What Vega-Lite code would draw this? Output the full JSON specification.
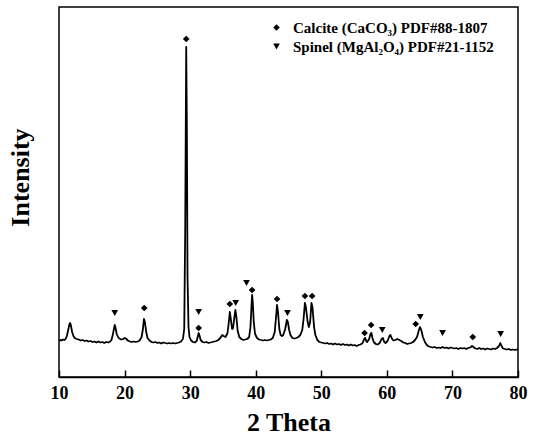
{
  "$schema": "https://vega.github.io/schema/vega-lite/v6.json",
  "autosize": {"type": "none"},
  "padding": {"left": 59, "top": 7, "right": 15, "bottom": 66},
  "width": 459,
  "height": 370,
  "config": {
    "view": {"stroke": "black", "strokeWidth": 1.5},
    "font": "Liberation Serif"
  },
  "datasets": {
    "spectrum": [
      {"t":10.0,"i":36},{"t":10.2,"i":37},{"t":10.4,"i":36.5},{"t":10.6,"i":37.5},{"t":10.8,"i":37},{"t":11.0,"i":38},{"t":11.2,"i":41},{"t":11.4,"i":47},{"t":11.6,"i":53},{"t":11.7,"i":54},{"t":11.8,"i":52},{"t":12.0,"i":45},{"t":12.2,"i":41},{"t":12.4,"i":39},{"t":12.7,"i":38},{"t":13.0,"i":37.5},{"t":13.3,"i":36.5},{"t":13.6,"i":37},{"t":13.9,"i":36},{"t":14.2,"i":36.5},{"t":14.5,"i":35.5},{"t":14.8,"i":36},{"t":15.1,"i":35},{"t":15.4,"i":35.5},{"t":15.7,"i":34.5},{"t":16.0,"i":35.5},{"t":16.3,"i":34.5},{"t":16.6,"i":35},{"t":16.9,"i":34},{"t":17.2,"i":35},{"t":17.5,"i":34.5},{"t":17.8,"i":35.5},{"t":18.0,"i":37},{"t":18.2,"i":42},{"t":18.4,"i":49},{"t":18.5,"i":52},{"t":18.6,"i":50},{"t":18.8,"i":43},{"t":19.0,"i":40},{"t":19.2,"i":38.5},{"t":19.5,"i":37.5},{"t":19.8,"i":38},{"t":20.0,"i":39},{"t":20.2,"i":38.5},{"t":20.5,"i":36.5},{"t":20.8,"i":35.5},{"t":21.1,"i":35},{"t":21.4,"i":35.5},{"t":21.7,"i":35},{"t":22.0,"i":35.5},{"t":22.3,"i":36.5},{"t":22.6,"i":40},{"t":22.8,"i":48},{"t":22.95,"i":58},{"t":23.1,"i":55},{"t":23.3,"i":45},{"t":23.5,"i":39},{"t":23.8,"i":36.5},{"t":24.1,"i":35},{"t":24.4,"i":34.5},{"t":24.7,"i":35},{"t":25.0,"i":34},{"t":25.3,"i":34.5},{"t":25.6,"i":33.5},{"t":25.9,"i":34.5},{"t":26.2,"i":34},{"t":26.5,"i":33.5},{"t":26.8,"i":34},{"t":27.1,"i":33.5},{"t":27.4,"i":34},{"t":27.7,"i":33.5},{"t":28.0,"i":34},{"t":28.3,"i":34.5},{"t":28.6,"i":35.5},{"t":28.9,"i":38},{"t":29.1,"i":48},{"t":29.25,"i":150},{"t":29.4,"i":330},{"t":29.5,"i":250},{"t":29.6,"i":100},{"t":29.75,"i":50},{"t":29.9,"i":40},{"t":30.1,"i":37},{"t":30.4,"i":35},{"t":30.7,"i":34.5},{"t":31.0,"i":36},{"t":31.15,"i":40},{"t":31.3,"i":44},{"t":31.45,"i":41},{"t":31.6,"i":37},{"t":31.9,"i":35},{"t":32.2,"i":34.5},{"t":32.5,"i":35},{"t":32.8,"i":34},{"t":33.1,"i":34.5},{"t":33.4,"i":35},{"t":33.7,"i":35.5},{"t":34.0,"i":36},{"t":34.3,"i":37},{"t":34.6,"i":39},{"t":34.9,"i":42},{"t":35.1,"i":41},{"t":35.4,"i":40},{"t":35.7,"i":44},{"t":35.9,"i":55},{"t":36.05,"i":65},{"t":36.2,"i":58},{"t":36.4,"i":48},{"t":36.55,"i":49},{"t":36.75,"i":60},{"t":36.9,"i":67},{"t":37.05,"i":60},{"t":37.25,"i":46},{"t":37.5,"i":40},{"t":37.8,"i":38},{"t":38.1,"i":37},{"t":38.4,"i":37.5},{"t":38.7,"i":38},{"t":39.0,"i":40},{"t":39.2,"i":50},{"t":39.35,"i":70},{"t":39.45,"i":82},{"t":39.55,"i":75},{"t":39.7,"i":55},{"t":39.9,"i":43},{"t":40.2,"i":39},{"t":40.5,"i":37.5},{"t":40.8,"i":37},{"t":41.1,"i":36.5},{"t":41.4,"i":37},{"t":41.7,"i":36.5},{"t":42.0,"i":37},{"t":42.3,"i":37.5},{"t":42.6,"i":39},{"t":42.9,"i":45},{"t":43.1,"i":60},{"t":43.25,"i":72},{"t":43.4,"i":65},{"t":43.6,"i":48},{"t":43.8,"i":42},{"t":44.0,"i":41},{"t":44.2,"i":42},{"t":44.5,"i":48},{"t":44.75,"i":57},{"t":44.9,"i":55},{"t":45.1,"i":47},{"t":45.3,"i":42},{"t":45.6,"i":39},{"t":45.9,"i":38.5},{"t":46.2,"i":39},{"t":46.5,"i":40},{"t":46.8,"i":42},{"t":47.1,"i":47},{"t":47.3,"i":58},{"t":47.5,"i":74},{"t":47.65,"i":70},{"t":47.9,"i":56},{"t":48.1,"i":50},{"t":48.3,"i":55},{"t":48.5,"i":74},{"t":48.65,"i":70},{"t":48.9,"i":50},{"t":49.1,"i":42},{"t":49.4,"i":37},{"t":49.7,"i":35},{"t":50.0,"i":34.5},{"t":50.3,"i":34},{"t":50.6,"i":33.5},{"t":50.9,"i":34},{"t":51.2,"i":33},{"t":51.5,"i":33.5},{"t":51.8,"i":32.5},{"t":52.1,"i":33.5},{"t":52.4,"i":32.5},{"t":52.7,"i":33},{"t":53.0,"i":32},{"t":53.3,"i":33},{"t":53.6,"i":32},{"t":53.9,"i":32.5},{"t":54.2,"i":31.5},{"t":54.5,"i":32.5},{"t":54.8,"i":31.5},{"t":55.1,"i":32},{"t":55.4,"i":31},{"t":55.7,"i":32},{"t":56.0,"i":32.5},{"t":56.3,"i":34},{"t":56.55,"i":38},{"t":56.7,"i":39},{"t":56.85,"i":36},{"t":57.0,"i":35},{"t":57.3,"i":38},{"t":57.5,"i":43},{"t":57.65,"i":44},{"t":57.8,"i":39},{"t":58.0,"i":35},{"t":58.3,"i":33},{"t":58.6,"i":32.5},{"t":58.9,"i":34},{"t":59.2,"i":38},{"t":59.4,"i":39},{"t":59.6,"i":35},{"t":59.8,"i":34},{"t":60.1,"i":36},{"t":60.4,"i":41},{"t":60.55,"i":42},{"t":60.8,"i":38},{"t":61.0,"i":36.5},{"t":61.3,"i":37},{"t":61.6,"i":38},{"t":61.9,"i":37},{"t":62.2,"i":36},{"t":62.5,"i":34.5},{"t":62.8,"i":34},{"t":63.1,"i":33},{"t":63.4,"i":33.5},{"t":63.7,"i":34},{"t":64.0,"i":35},{"t":64.3,"i":37},{"t":64.6,"i":40},{"t":64.85,"i":46},{"t":65.05,"i":50},{"t":65.25,"i":47},{"t":65.5,"i":40},{"t":65.8,"i":35},{"t":66.1,"i":32},{"t":66.4,"i":30.5},{"t":66.7,"i":30},{"t":67.0,"i":29.5},{"t":67.3,"i":30},{"t":67.6,"i":29},{"t":67.9,"i":29.5},{"t":68.2,"i":29},{"t":68.5,"i":30},{"t":68.8,"i":29},{"t":69.1,"i":29.5},{"t":69.4,"i":28.5},{"t":69.7,"i":29.5},{"t":70.0,"i":29},{"t":70.3,"i":28.5},{"t":70.6,"i":29},{"t":70.9,"i":28},{"t":71.2,"i":29},{"t":71.5,"i":28.5},{"t":71.8,"i":29},{"t":72.1,"i":28},{"t":72.4,"i":29},{"t":72.7,"i":29.5},{"t":73.0,"i":31},{"t":73.2,"i":30},{"t":73.5,"i":28.5},{"t":73.8,"i":28},{"t":74.1,"i":29},{"t":74.4,"i":28},{"t":74.7,"i":28.5},{"t":75.0,"i":27.5},{"t":75.3,"i":28.5},{"t":75.6,"i":28},{"t":75.9,"i":27.5},{"t":76.2,"i":28.5},{"t":76.5,"i":28},{"t":76.8,"i":29},{"t":77.1,"i":31},{"t":77.3,"i":34},{"t":77.5,"i":31},{"t":77.7,"i":28.5},{"t":78.0,"i":28},{"t":78.3,"i":27.5},{"t":78.6,"i":28},{"t":78.9,"i":27},{"t":79.2,"i":27.5},{"t":79.5,"i":27},{"t":79.8,"i":27.5},{"t":80.0,"i":27}
    ],
    "markers": [
      {"t":23.0,"i":69,"phase":"Calcite (CaCO₃) PDF#88-1807"},
      {"t":29.4,"i":338,"phase":"Calcite (CaCO₃) PDF#88-1807"},
      {"t":31.3,"i":49,"phase":"Calcite (CaCO₃) PDF#88-1807"},
      {"t":36.05,"i":73,"phase":"Calcite (CaCO₃) PDF#88-1807"},
      {"t":39.45,"i":87,"phase":"Calcite (CaCO₃) PDF#88-1807"},
      {"t":43.25,"i":78,"phase":"Calcite (CaCO₃) PDF#88-1807"},
      {"t":47.5,"i":81,"phase":"Calcite (CaCO₃) PDF#88-1807"},
      {"t":48.6,"i":81,"phase":"Calcite (CaCO₃) PDF#88-1807"},
      {"t":56.6,"i":44,"phase":"Calcite (CaCO₃) PDF#88-1807"},
      {"t":57.6,"i":52,"phase":"Calcite (CaCO₃) PDF#88-1807"},
      {"t":64.4,"i":53,"phase":"Calcite (CaCO₃) PDF#88-1807"},
      {"t":73.1,"i":40,"phase":"Calcite (CaCO₃) PDF#88-1807"},
      {"t":18.5,"i":64,"phase":"Spinel (MgAl₂O₄) PDF#21-1152"},
      {"t":31.3,"i":65,"phase":"Spinel (MgAl₂O₄) PDF#21-1152"},
      {"t":36.95,"i":74,"phase":"Spinel (MgAl₂O₄) PDF#21-1152"},
      {"t":38.6,"i":94,"phase":"Spinel (MgAl₂O₄) PDF#21-1152"},
      {"t":44.85,"i":64,"phase":"Spinel (MgAl₂O₄) PDF#21-1152"},
      {"t":59.3,"i":47,"phase":"Spinel (MgAl₂O₄) PDF#21-1152"},
      {"t":65.1,"i":60,"phase":"Spinel (MgAl₂O₄) PDF#21-1152"},
      {"t":68.5,"i":44,"phase":"Spinel (MgAl₂O₄) PDF#21-1152"},
      {"t":77.35,"i":43,"phase":"Spinel (MgAl₂O₄) PDF#21-1152"}
    ]
  },
  "layer": [
    {
      "data": {"name": "spectrum"},
      "mark": {"type": "line", "color": "black", "strokeWidth": 1.8, "strokeJoin": "round"},
      "encoding": {
        "x": {
          "field": "t", "type": "quantitative",
          "scale": {"domain": [10, 80], "nice": false, "zero": false},
          "axis": {
            "title": "2 Theta",
            "values": [10, 20, 30, 40, 50, 60, 70, 80],
            "grid": false,
            "domainColor": "black", "domainWidth": 1.5,
            "tickColor": "black", "tickWidth": 1.5, "tickSize": -7,
            "labelFont": "Liberation Serif", "labelFontSize": 18, "labelFontWeight": "bold", "labelColor": "black",
            "labelPadding": 14, "labelFlush": false,
            "titleFont": "Liberation Serif", "titleFontSize": 26, "titleFontWeight": "bold", "titleColor": "black",
            "titleBaseline": "alphabetic", "titleY": 53
          }
        },
        "y": {
          "field": "i", "type": "quantitative",
          "scale": {"domain": [0, 370], "nice": false},
          "axis": {
            "title": "Intensity",
            "labels": false, "ticks": false, "domain": false, "grid": false,
            "titleFont": "Liberation Serif", "titleFontSize": 26, "titleFontWeight": "bold", "titleColor": "black",
            "titleX": -26, "titleY": 170
          }
        }
      }
    },
    {
      "data": {"name": "markers"},
      "mark": {"type": "point", "filled": true, "fill": "black", "opacity": 1, "size": 45},
      "encoding": {
        "x": {"field": "t", "type": "quantitative"},
        "y": {"field": "i", "type": "quantitative"},
        "shape": {
          "field": "phase", "type": "nominal",
          "scale": {
            "domain": ["Calcite (CaCO₃) PDF#88-1807", "Spinel (MgAl₂O₄) PDF#21-1152"],
            "range": ["diamond", "triangle-down"]
          },
          "legend": {
            "title": null,
            "orient": "none",
            "legendX": 210,
            "legendY": 13,
            "symbolFillColor": "black",
            "symbolStrokeColor": "black",
            "symbolSize": 45,
            "labelFont": "Liberation Serif",
            "labelFontSize": 15,
            "labelFontWeight": "bold",
            "labelColor": "black",
            "labelOffset": 9,
            "rowPadding": 3,
            "labelLimit": 300
          }
        }
      }
    }
  ]
}
